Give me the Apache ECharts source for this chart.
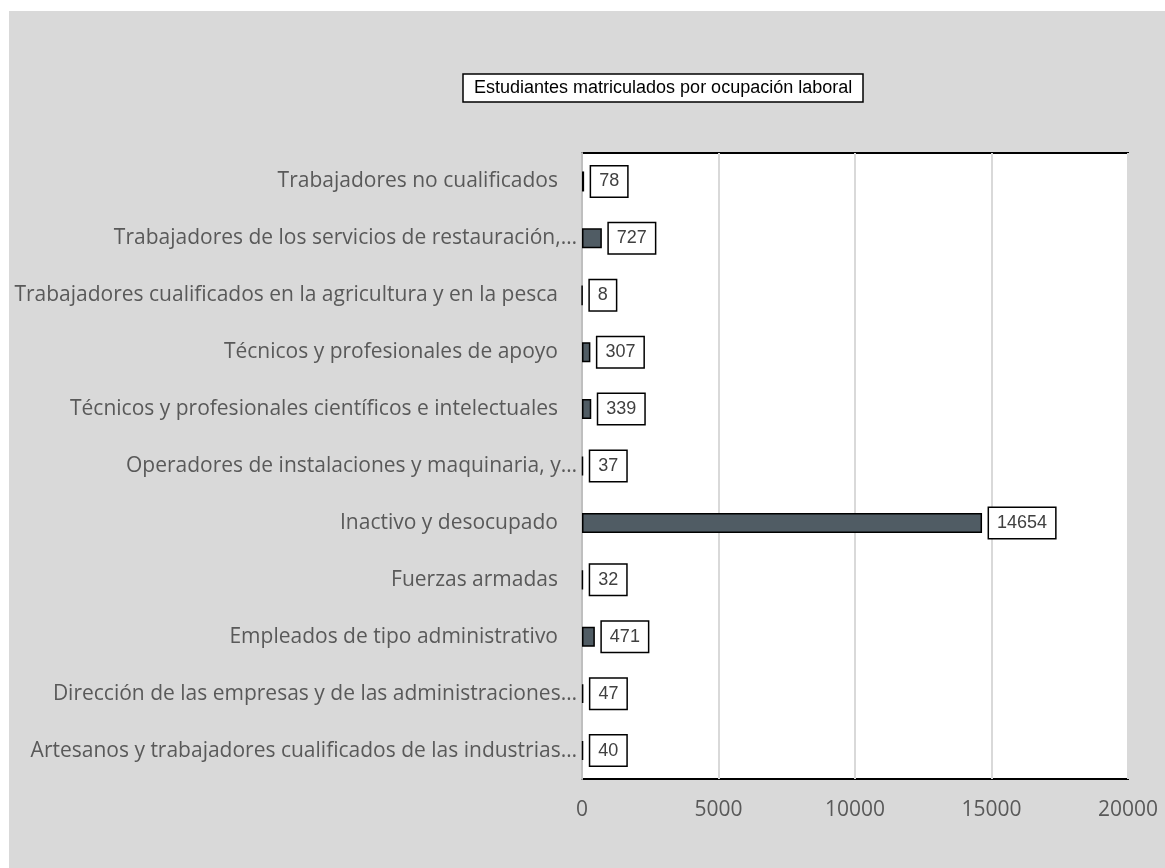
<!DOCTYPE html>
<html>
<head>
<meta charset="utf-8">
<script src="https://cdn.jsdelivr.net/npm/echarts@6/dist/echarts.min.js"></script>
<style>
  body { margin: 0; background: #fff; }
  #main { width: 1165px; height: 868px; }
</style>
</head>
<body>
<div id="main"></div>
<script>
// categories from bottom to top, as drawn
var categories = [
  "Artesanos y trabajadores cualificados de las industrias…",
  "Dirección de las empresas y de las administraciones…",
  "Empleados de tipo administrativo",
  "Fuerzas armadas",
  "Inactivo y desocupado",
  "Operadores de instalaciones y maquinaria, y…",
  "Técnicos y profesionales científicos e intelectuales",
  "Técnicos y profesionales de apoyo",
  "Trabajadores cualificados en la agricultura y en la pesca",
  "Trabajadores de los servicios de restauración,…",
  "Trabajadores no cualificados"
];
var students = [40, 47, 471, 32, 14654, 37, 339, 307, 8, 727, 78];
var xTicks = [0, 5000, 10000, 15000, 20000];
var chartTitle = "Estudiantes matriculados por ocupación laboral";

var chartDom = document.getElementById("main");
var myChart = echarts.init(chartDom);
var option;

option = {
  backgroundColor: "#fff",
  animation: false,
  graphic: [
    {
      type: "rect",
      z: -10,
      shape: { x: 9, y: 11, width: 1156, height: 857 },
      style: { fill: "#d9d9d9" },
    },
  ],
  title: {
    text: chartTitle,
    left: 463,
    top: 74,
    backgroundColor: "#fff",
    borderColor: "#000",
    borderWidth: 1.5,
    padding: [5, 11, 5, 11],
    textStyle: {
      fontFamily: "Liberation Sans",
      fontSize: 18,
      fontWeight: "normal",
      color: "#000",
    },
  },
  grid: {
    left: 582,
    top: 153,
    width: 546,
    height: 626,
    show: true,
    backgroundColor: "#fff",
    borderColor: "#000",
    borderWidth: 2,
  },
  xAxis: {
    type: "value",
    min: xTicks[0],
    max: xTicks[xTicks.length - 1],
    interval: 5000,
    axisLine: { show: false },
    axisTick: { show: false },
    splitLine: { lineStyle: { color: "#d9d9d9", width: 2 } },
    axisLabel: {
      margin: 21,
      fontFamily: "Open Sans",
      fontSize: 21,
      color: "#595959",
      formatter: function (v) {
        return String(v);
      },
    },
  },
  yAxis: {
    type: "category",
    data: categories,
    axisLine: { show: true, lineStyle: { color: "#bfbfbf", width: 2 } },
    axisTick: { show: false },
    axisLabel: {
      margin: 5,
      formatter: function (v) {
        return v.slice(-1) === "…" ? "{t|" + v + "}" : "{n|" + v + "}";
      },
      rich: {
        t: { fontFamily: "Open Sans", fontSize: 21, color: "#595959" },
        n: {
          fontFamily: "Open Sans",
          fontSize: 21,
          color: "#595959",
          padding: [0, 19, 0, 0],
        },
      },
    },
  },
  series: [
    {
      type: "bar",
      data: students,
      barWidth: 20,
      itemStyle: {
        color: "#505c64",
        borderColor: "#000",
        borderWidth: 1.5,
      },
      label: {
        show: true,
        position: "right",
        distance: 7,
        fontFamily: "Liberation Sans",
        fontSize: 18,
        color: "#404040",
        backgroundColor: "#fff",
        borderColor: "#000",
        borderWidth: 1.5,
        padding: [6, 8, 6, 8],
      },
    },
  ],
};

option && myChart.setOption(option);
</script>
</body>
</html>
